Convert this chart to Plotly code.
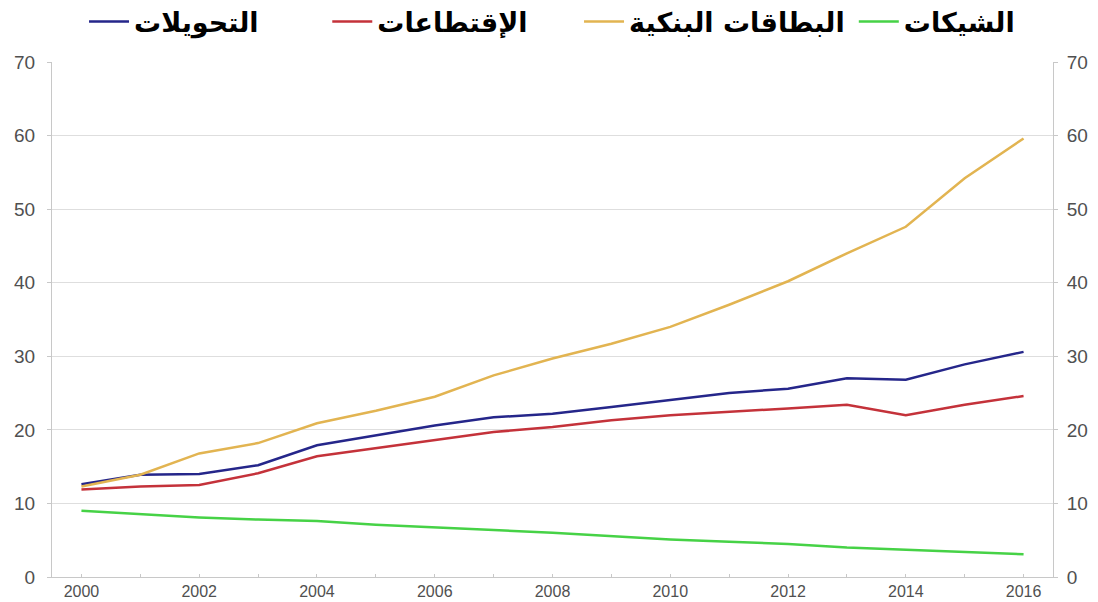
import plotly.graph_objects as go

years = list(range(2000, 2017))
transfers = [12.6, 13.9, 14.0, 15.2, 17.9, 19.2, 20.6, 21.7, 22.2, 23.1, 24.0, 25.0, 25.6, 27.0, 26.8, 28.9, 30.6]
debits = [11.9, 12.3, 12.5, 14.1, 16.4, 17.5, 18.6, 19.7, 20.4, 21.3, 22.0, 22.4, 22.9, 23.4, 22.0, 23.4, 24.6]
cards = [12.3, 13.9, 16.8, 18.2, 20.9, 22.6, 24.5, 27.4, 29.7, 31.7, 34.0, 37.0, 40.2, 44.0, 47.6, 54.2, 59.6]
cheques = [9.0, 8.5, 8.1, 7.8, 7.6, 7.1, 6.8, 6.4, 6.0, 5.5, 5.1, 4.8, 4.5, 4.0, 3.7, 3.4, 3.1]

names = ["التحويلات", "الإقتطاعات", "البطاقات البنكية", "الشيكات"]
colors = ["#25268a", "#c4323a", "#e2b451", "#46d246"]
series = [transfers, debits, cards, cheques]
legend_ids = ["legend", "legend2", "legend3", "legend4"]
legend_x = [0.032, 0.275, 0.5265, 0.801]

y_ticks = [0, 10, 20, 30, 40, 50, 60, 70]
x_ticks = list(range(2000, 2017, 2))

fig = go.Figure()
for name, vals, col, lid in zip(names, series, colors, legend_ids):
    fig.add_trace(go.Scatter(x=years, y=vals, mode="lines", name=name, legend=lid,
                             line=dict(color=col, width=2.5)))
# invisible copy to drive the right-hand axis
fig.add_trace(go.Scatter(x=years, y=cards, mode="lines", yaxis="y2",
                         line=dict(width=0), showlegend=False, hoverinfo="skip"))

legend_font = dict(family="DejaVu Sans", size=27, color="black", weight="bold")
legends = {}
for lid, lx in zip(legend_ids, legend_x):
    legends[lid] = dict(orientation="h", x=lx, xanchor="left", y=1.078, yanchor="middle",
                        font=legend_font, itemwidth=40, bgcolor="rgba(0,0,0,0)")

tickfont = dict(family="Liberation Sans, Arial", size=19, color="#505050")
fig.update_layout(
    width=1098, height=602,
    margin=dict(l=52, r=45, t=62, b=25, autoexpand=False),
    paper_bgcolor="white", plot_bgcolor="white",
    showlegend=True,
    **legends,
    xaxis=dict(range=[1999.5, 2016.5], tickvals=x_ticks, ticktext=[str(v) for v in x_ticks],
               tickfont=dict(family="Liberation Sans, Arial", size=16, color="#505050"),
               showgrid=False, showline=True, linecolor="#c8c8c8", linewidth=1,
               ticks="inside", ticklen=3, tickcolor="#c8c8c8",
               minor=dict(dtick=1, ticks="inside", ticklen=3, tickcolor="#c8c8c8"),
               zeroline=False),
    yaxis=dict(range=[0, 70], tickvals=y_ticks, tickfont=tickfont,
               showgrid=True, gridcolor="#dedede", gridwidth=1,
               showline=True, linecolor="#c8c8c8", linewidth=1,
               ticks="outside", ticklen=4, tickcolor="#c8c8c8", zeroline=False,
               ticklabelstandoff=8),
    yaxis2=dict(range=[0, 70], tickvals=y_ticks, tickfont=tickfont, overlaying="y",
                side="right", showgrid=False, showline=True, linecolor="#c8c8c8",
                linewidth=1, ticks="outside", ticklen=4, tickcolor="#c8c8c8",
                zeroline=False, ticklabelstandoff=5),
)

fig.write_html("out.html")
